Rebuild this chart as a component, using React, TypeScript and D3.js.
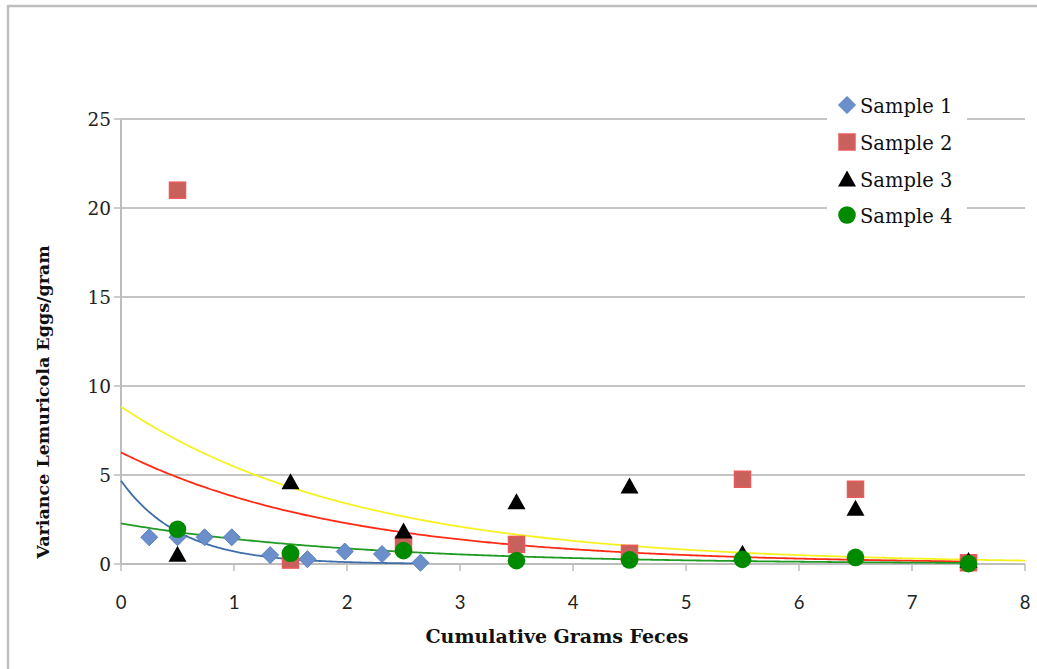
import React from "react";
import * as d3 from "d3";

// Sample 1 (diamonds)
const s1X = [0.25, 0.5, 0.74, 0.98, 1.32, 1.65, 1.98, 2.31, 2.65];
const s1Y = [1.5, 1.5, 1.5, 1.5, 0.5, 0.27, 0.7, 0.56, 0.07];
// Samples 2-4 share the same x positions
const sX = [0.5, 1.5, 2.5, 3.5, 4.5, 5.5, 6.5, 7.5];
const s2Y = [21, 0.22, 1.1, 1.1, 0.6, 4.76, 4.2, 0.07];
const s3Y = [0.55, 4.62, 1.85, 3.5, 4.38, 0.6, 3.13, 0.2];
const s4Y = [1.95, 0.6, 0.75, 0.19, 0.23, 0.26, 0.37, 0.02];

// Exponential trendlines y = a * exp(-k x), drawn from 0 to end
const trendA = [4.68, 6.27, 8.84, 2.28];
const trendK = [1.89, 0.505, 0.479, 0.48];
const trendEnd = [2.65, 7.5, 8, 7.5];
const trendColors = ["#3D6EA8", "#FF2B14", "#F6F222", "#1F9B24"];

const xTicks = [0, 1, 2, 3, 4, 5, 6, 7, 8];
const yTicks = [0, 5, 10, 15, 20, 25];
const legendLabels = ["Sample 1", "Sample 2", "Sample 3", "Sample 4"];

const W = 1037;
const H = 669;
const left = 121;
const right = 1025;
const top = 119;
const bottom = 564;

const serif = "'DejaVu Serif', serif";

function Marker({ kind, x, y }: { kind: number; x: number; y: number }) {
  if (kind === 0) {
    const r = 8.5;
    return (
      <path
        d={`M${x},${y - r}L${x + r},${y}L${x},${y + r}L${x - r},${y}Z`}
        fill="#6A8FCA"
        stroke="#5B7FBE"
        strokeWidth={1}
      />
    );
  }
  if (kind === 1) {
    const s = 16;
    return (
      <rect
        x={x - s / 2}
        y={y - s / 2}
        width={s}
        height={s}
        fill="#C8615B"
        stroke="#E85A5A"
        strokeWidth={1.5}
      />
    );
  }
  if (kind === 2) {
    const w = 9;
    return (
      <path
        d={`M${x},${y - 8.5}L${x + w},${y + 7.5}L${x - w},${y + 7.5}Z`}
        fill="#000"
      />
    );
  }
  return <circle cx={x} cy={y} r={8.8} fill="#008A00" />;
}

export default function App() {
  const xs = d3.scaleLinear().domain([0, 8]).range([left, right]);
  const ys = d3.scaleLinear().domain([0, 25]).range([bottom, top]);

  const line = d3
    .line<number[]>()
    .x((d) => xs(d[0]))
    .y((d) => ys(d[1]));

  const trends = trendA.map((a, i) => {
    const pts = d3
      .range(0, trendEnd[i] + 1e-9, 0.02)
      .concat([trendEnd[i]])
      .map((x) => [x, a * Math.exp(-trendK[i] * x)]);
    return line(pts) || "";
  });

  const series = [
    s1X.map((x, i) => [x, s1Y[i]]),
    sX.map((x, i) => [x, s2Y[i]]),
    sX.map((x, i) => [x, s3Y[i]]),
    sX.map((x, i) => [x, s4Y[i]]),
  ];

  const legendX = 847;
  const legendY = [105, 142, 179, 215];

  return (
    <svg
      width={W}
      height={H}
      style={{ position: "absolute", left: 0, top: 0, background: "#fff" }}
    >
      {/* outer chart frame */}
      <line x1={8} x2={W} y1={6} y2={6} stroke="#BEBEBE" strokeWidth={2.5} />
      <line x1={8} x2={8} y1={5} y2={H} stroke="#BEBEBE" strokeWidth={2.5} />

      {/* horizontal gridlines */}
      {yTicks
        .filter((t) => t > 0)
        .map((t) => (
          <line
            key={t}
            x1={left}
            x2={right}
            y1={ys(t)}
            y2={ys(t)}
            stroke="#8A8A8A"
            strokeWidth={1}
          />
        ))}

      {/* y axis */}
      <line x1={left} x2={left} y1={top} y2={bottom} stroke="#BDBDBD" strokeWidth={2} />
      {yTicks.map((t) => (
        <g key={t}>
          <line x1={left - 7} x2={left} y1={ys(t)} y2={ys(t)} stroke="#BDBDBD" strokeWidth={1.5} />
          <text
            x={111}
            y={ys(t)}
            textAnchor="end"
            dominantBaseline="central"
            fontFamily={serif}
            fontSize={18.5}
            fill="#222"
          >
            {t}
          </text>
        </g>
      ))}

      {/* x axis */}
      <line x1={left} x2={right} y1={bottom} y2={bottom} stroke="#BDBDBD" strokeWidth={2} />
      {xTicks.map((t) => (
        <g key={t}>
          <line x1={xs(t)} x2={xs(t)} y1={bottom} y2={bottom + 7} stroke="#BDBDBD" strokeWidth={1.5} />
          <text
            x={xs(t)}
            y={602}
            textAnchor="middle"
            dominantBaseline="central"
            fontFamily="Lato, 'Liberation Sans', sans-serif"
            fontSize={18.5}
            fill="#222"
          >
            {t}
          </text>
        </g>
      ))}

      {/* trendlines */}
      {trends.map((d, i) => (
        <path key={i} d={d} fill="none" stroke={trendColors[i]} strokeWidth={1.8} />
      ))}

      {/* data markers */}
      {series.map((pts, k) =>
        pts.map((p, i) => <Marker key={`${k}-${i}`} kind={k} x={xs(p[0])} y={ys(p[1])} />)
      )}

      {/* legend */}
      <rect x={827} y={88} width={140} height={144} fill="#fff" />
      {legendLabels.map((lab, i) => (
        <g key={lab}>
          <Marker kind={i} x={legendX} y={legendY[i]} />
          <text
            x={860}
            y={legendY[i] + 1}
            dominantBaseline="central"
            fontFamily={serif}
            fontSize={19.5}
            fill="#111"
          >
            {lab}
          </text>
        </g>
      ))}

      {/* axis titles */}
      <text
        x={557}
        y={636}
        textAnchor="middle"
        dominantBaseline="central"
        fontFamily={serif}
        fontWeight="bold"
        fontSize={19}
        fill="#111"
      >
        Cumulative Grams Feces
      </text>
      <text
        transform={`translate(43,402) rotate(-90)`}
        textAnchor="middle"
        dominantBaseline="central"
        fontFamily={serif}
        fontWeight="bold"
        fontSize={17.5}
        fill="#111"
      >
        Variance Lemuricola Eggs/gram
      </text>
    </svg>
  );
}
